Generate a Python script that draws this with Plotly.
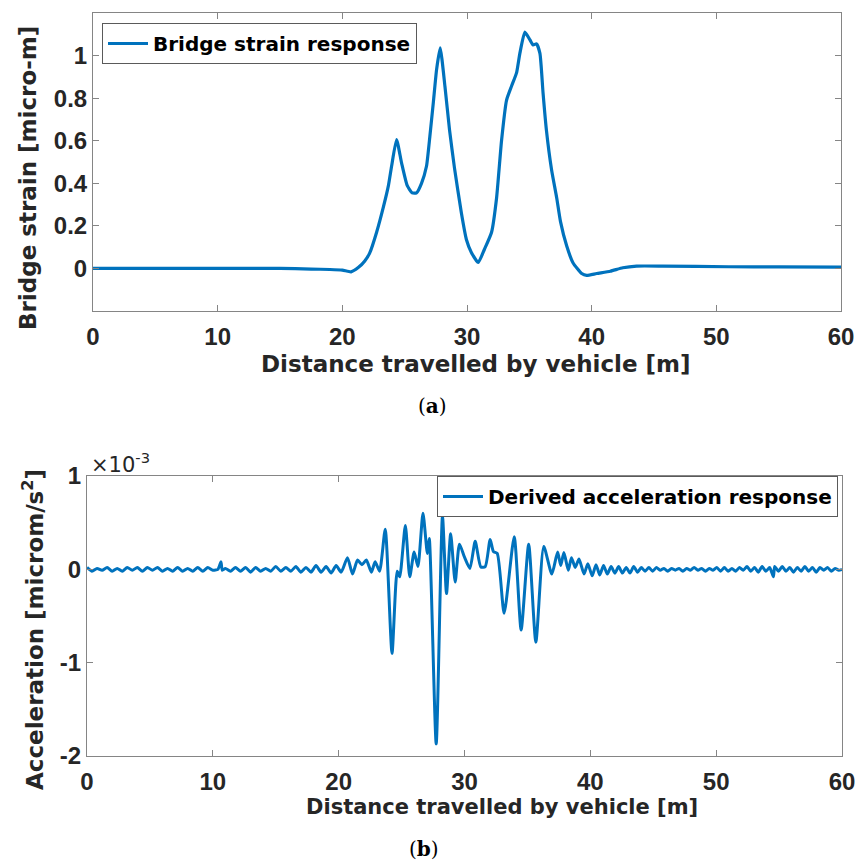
import plotly.graph_objects as go

# ---- (a) bridge strain response ----
strain_x = [0, 5, 10, 15, 17.5, 19.0, 20.0, 20.7, 21.3, 21.8, 22.2, 22.75, 23.3, 23.7,
            23.95, 24.35, 24.75, 25.2, 25.6, 25.95, 26.35, 26.75, 27.02, 27.3, 27.56,
            27.85, 28.23, 28.6, 29.0, 29.55, 29.95, 30.35, 30.9, 31.4, 31.97, 32.37,
            32.77, 33.17, 33.57, 33.98, 34.24, 34.64, 35.04, 35.3, 35.58, 35.85, 36.1,
            36.37, 36.78, 37.2, 37.5, 38.0, 38.5, 39.2, 39.6, 40.4, 41.5, 42.5, 43.6,
            45.7, 51.0, 55.0, 60.0]
strain_y = [0.0, 0.0, 0.0, 0.0, -0.003, -0.005, -0.008, -0.016, 0.005, 0.035, 0.073, 0.17,
            0.29, 0.39, 0.48, 0.605, 0.496, 0.39, 0.355, 0.355, 0.40, 0.48, 0.62, 0.78,
            0.934, 1.036, 0.856, 0.65, 0.47, 0.26, 0.136, 0.075, 0.028, 0.09, 0.17, 0.33,
            0.60, 0.79, 0.856, 0.92, 1.01, 1.11, 1.075, 1.05, 1.055, 1.01, 0.825, 0.65,
            0.465, 0.33, 0.22, 0.105, 0.027, -0.024, -0.033, -0.024, -0.013, 0.003, 0.011,
            0.011, 0.008, 0.007, 0.006]

# ---- (b) derived acceleration response (values in units of 1e-3) ----
accel_x = [0.0, 0.4, 0.8, 1.2, 1.6, 2.0, 2.4, 2.8, 3.2, 3.6, 4.0, 4.4, 4.8, 5.2, 5.6, 6.0,
           6.4, 6.8, 7.2, 7.6, 8.0, 8.4, 8.8, 9.2, 9.6, 10.0, 10.4, 10.65, 10.75, 11.0, 11.4,
           11.8, 12.2, 12.6, 13.0, 13.4, 13.8, 14.2, 14.6, 15.0, 15.4, 15.8, 16.2, 16.6,
           17.0, 17.4, 17.8, 18.2, 18.6, 19.0, 19.4, 19.8, 20.2,
           20.7, 21.1, 21.5, 21.85, 22.2, 22.6, 22.9, 23.25, 23.7, 24.24, 24.65, 24.85,
           25.3, 25.65, 26.0, 26.3, 26.7, 27.05, 27.2, 27.75, 28.25, 28.57, 28.9, 29.26,
           29.6, 30.0, 30.43, 30.85, 31.3, 31.65, 32.04, 32.3, 32.6, 33.15, 33.95, 34.5,
           35.1, 35.67, 36.3, 36.94, 37.4, 37.65, 37.9, 38.25, 38.5, 38.8, 39.1, 39.5,
           39.8, 40.15,
           40.45, 40.75, 41.05, 41.35, 41.65, 41.95, 42.25, 42.55, 42.85, 43.15, 43.45,
           43.75, 44.05, 44.35, 44.65, 44.95, 45.25, 45.55, 45.85, 46.15, 46.45, 46.75,
           47.05, 47.35, 47.65, 47.95, 48.25, 48.55, 48.85, 49.15, 49.45, 49.75, 50.05,
           50.35, 50.65, 50.95, 51.25, 51.55, 51.85, 52.15, 52.45, 52.75, 53.05, 53.35,
           53.65, 53.95, 54.25, 54.55, 54.65, 54.95, 55.25, 55.55, 55.85, 56.15, 56.45,
           56.75, 57.05, 57.35, 57.65, 57.95, 58.25, 58.55, 58.85, 59.15, 59.45, 59.75, 60.0]
accel_y = [0.02, -0.02, 0.01, -0.01, 0.02, -0.02, 0.01, -0.02, 0.02, -0.01, 0.02, -0.02,
           0.02, -0.01, 0.02, -0.02, 0.01, -0.02, 0.02, -0.02, 0.01, -0.02, 0.02, -0.02,
           0.02, -0.01, 0.0, 0.08, -0.01, 0.01, -0.02, 0.02, -0.02, 0.02, -0.03, 0.02,
           -0.02, 0.01, -0.02, 0.03, -0.02, 0.02, -0.02, 0.03, -0.03, 0.02, -0.03, 0.04,
           -0.03, 0.03, -0.04, 0.04, -0.03,
           0.125, -0.05, 0.10, 0.05, 0.10, -0.03, 0.08, -0.02, 0.43, -0.90, -0.02, -0.08,
           0.47, -0.08, 0.185, 0.03, 0.60, 0.17, 0.33, -1.87, 0.57, -0.26, 0.38, -0.135,
           0.27, 0.13, 0.01, 0.30, 0.025, 0.03, 0.32, 0.19, 0.17, -0.47, 0.35, -0.65,
           0.27, -0.78, 0.245, -0.05, 0.185, 0.04, 0.18, -0.01, 0.125, 0.02, 0.11, -0.05,
           0.06, -0.07,
           0.05, -0.06, 0.04, -0.05, 0.03, -0.04, 0.03, -0.04, 0.02, -0.04, 0.03,
           -0.03, 0.02, -0.02, 0.02, -0.02, 0.02, -0.01, 0.01, -0.02, 0.01, -0.01,
           0.01, -0.02, 0.01, -0.01, 0.02, -0.01, 0.01, -0.02, 0.01, -0.01, 0.02,
           -0.02, 0.02, -0.02, 0.01, -0.02, 0.02, -0.01, 0.03, -0.02, 0.02, -0.03,
           0.03, -0.02, 0.02, -0.08, 0.03, -0.02, 0.03, -0.02, 0.02, -0.03, 0.02,
           -0.02, 0.03, -0.02, 0.02, -0.03, 0.02, -0.01, 0.02, -0.02, 0.01, -0.01, 0.0]

x_ticks = [0, 10, 20, 30, 40, 50, 60]
strain_ticks = [0, 0.2, 0.4, 0.6, 0.8, 1]
strain_tick_text = ["0", "0.2", "0.4", "0.6", "0.8", "1"]
accel_ticks = [-2, -1, 0, 1]
accel_tick_text = ["-2", "-1", "0", "1"]

W, H = 858, 861
BLUE = "#0072BD"
TXT = "#262626"
AX = "#858585"
TICK_FONT = "Liberation Sans"
LABEL_FONT = "DejaVu Sans"


def px_x(p):
    return p / W


def px_y(p):
    return 1 - p / H


fig = go.Figure()
fig.add_trace(go.Scatter(x=strain_x, y=strain_y, mode="lines",
                         line=dict(color=BLUE, width=3.2, shape="spline", smoothing=0.5),
                         name="Bridge strain response", xaxis="x", yaxis="y",
                         legend="legend"))
fig.add_trace(go.Scatter(x=accel_x, y=accel_y, mode="lines",
                         line=dict(color=BLUE, width=3.0, shape="spline", smoothing=0.6),
                         name="Derived acceleration response", xaxis="x2", yaxis="y2",
                         legend="legend2"))

axis_common = dict(showline=True, linecolor=AX, linewidth=1, mirror="ticks",
                   ticks="inside", ticklen=6, tickcolor=AX, tickwidth=1,
                   showgrid=False, zeroline=False, automargin=False,
                   tickfont=dict(family=TICK_FONT, size=24, color=TXT, weight="bold"))

legend_common = dict(xanchor="left", yanchor="top", bgcolor="white",
                     bordercolor="#5a5a5a", borderwidth=1,
                     font=dict(family=LABEL_FONT, size=20, color="black", weight="bold"),
                     itemwidth=40, tracegroupgap=0)

fig.update_layout(
    template="none",
    width=W, height=H,
    margin=dict(l=0, r=0, t=0, b=0, pad=0, autoexpand=False),
    paper_bgcolor="white", plot_bgcolor="white",
    xaxis=dict(domain=[px_x(93), px_x(841)], range=[0, 60], tickvals=x_ticks,
               anchor="y", ticklabelstandoff=4, **axis_common),
    yaxis=dict(domain=[px_y(311), px_y(13)], range=[-0.2, 1.2], tickvals=strain_ticks,
               ticktext=strain_tick_text, anchor="x", ticklabelstandoff=0, **axis_common),
    xaxis2=dict(domain=[px_x(87), px_x(842)], range=[0, 60], tickvals=x_ticks,
                anchor="y2", ticklabelstandoff=4, **axis_common),
    yaxis2=dict(domain=[px_y(756), px_y(476)], range=[-2, 1], tickvals=accel_ticks,
                ticktext=accel_tick_text, anchor="x2", ticklabelstandoff=0, **axis_common),
    legend=dict(x=px_x(102), y=px_y(23), **legend_common),
    legend2=dict(x=px_x(437), y=px_y(476), **legend_common),
    showlegend=True,
)

annotations = [
    dict(text="Distance travelled by vehicle [m]", x=px_x(476), y=px_y(364),
         font=dict(family=LABEL_FONT, size=23, color=TXT, weight="bold")),
    dict(text="Bridge strain [micro-m]", x=px_x(28), y=px_y(178), textangle=-90,
         font=dict(family=LABEL_FONT, size=23, color=TXT, weight="bold")),
    dict(text="Distance travelled by vehicle [m]", x=px_x(502), y=px_y(807),
         font=dict(family=LABEL_FONT, size=21, color=TXT, weight="bold")),
    dict(text="Acceleration [microm/s<sup>2</sup>]", x=px_x(33), y=px_y(630),
         textangle=-90, font=dict(family=LABEL_FONT, size=23, color=TXT, weight="bold")),
    dict(text="×10<sup>-3</sup>", x=px_x(89), y=px_y(463), xanchor="left",
         font=dict(family=LABEL_FONT, size=21, color=TXT)),
    dict(text="(<b>a</b>)", x=px_x(432), y=px_y(406),
         font=dict(family="DejaVu Serif", size=20, color="black")),
    dict(text="(<b>b</b>)", x=px_x(424), y=px_y(849),
         font=dict(family="DejaVu Serif", size=20, color="black")),
]
for a in annotations:
    a.update(xref="paper", yref="paper", showarrow=False)
    a.setdefault("xanchor", "center")
    a.setdefault("yanchor", "middle")
fig.update_layout(annotations=annotations)

fig.write_html("out.html")
